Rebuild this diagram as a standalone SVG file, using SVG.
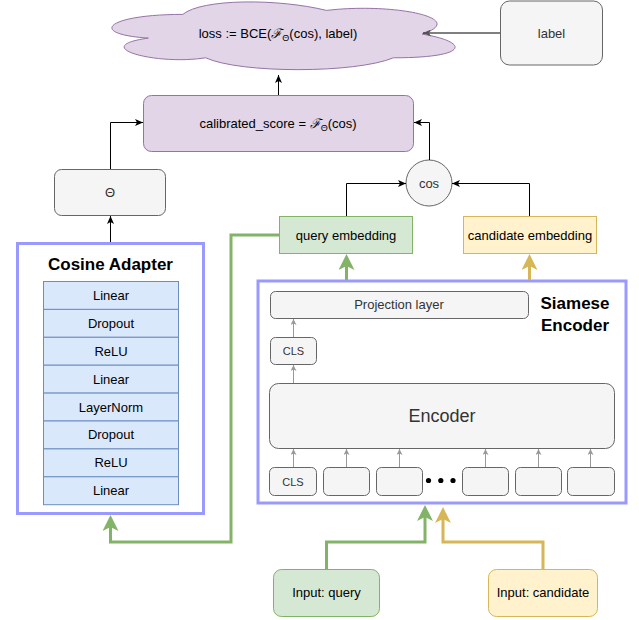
<svg xmlns="http://www.w3.org/2000/svg" width="639" height="620" viewBox="0 0 639 620">
<style>
text{font-family:"Liberation Sans",Arial,sans-serif;font-size:13px;fill:#000;text-anchor:middle}
.g{fill:#333}
.sm{font-size:11px}
.big{font-size:18px}
.ttl{font-weight:bold;font-size:17px}
.lay{fill:#dae8fc;stroke:#6c8ebf;stroke-width:1}
.grey{fill:#f5f5f5;stroke:#666;stroke-width:1}
.purp{fill:#e1d5e7;stroke:#9673a6;stroke-width:1}
.frame{fill:#fff;stroke:#9999ff;stroke-width:3}
.blk{fill:none;stroke:#000;stroke-width:1}
.gl{fill:none;stroke:#999;stroke-width:1}
.green{fill:none;stroke:#82b366;stroke-width:3}
.yel{fill:none;stroke:#d6b656;stroke-width:3}
.scr{font-family:"DejaVu Serif",serif;font-style:italic}
</style>
<defs>
<marker id="ab" markerUnits="userSpaceOnUse" viewBox="0 0 8 7" refX="8" refY="3.5" markerWidth="8" markerHeight="7" orient="auto"><path d="M0,0 L8,3.5 L0,7 L2,3.5 Z" fill="#000"/></marker>
<marker id="ad" markerUnits="userSpaceOnUse" viewBox="0 0 8 7" refX="8" refY="3.5" markerWidth="8" markerHeight="7" orient="auto"><path d="M0,0 L8,3.5 L0,7 L2,3.5 Z" fill="#555"/></marker>
<marker id="agr" markerUnits="userSpaceOnUse" viewBox="0 0 6 6" refX="6" refY="3" markerWidth="6" markerHeight="6" orient="auto"><path d="M0,0 L6,3 L0,6 L1.5,3 Z" fill="#999"/></marker>
<marker id="agn" markerUnits="userSpaceOnUse" viewBox="0 0 16 16" refX="4" refY="8" markerWidth="16" markerHeight="16" orient="auto"><path d="M0,0 L16,8 L0,16 L4,8 Z" fill="#82b366"/></marker>
<marker id="ayl" markerUnits="userSpaceOnUse" viewBox="0 0 16 16" refX="4" refY="8" markerWidth="16" markerHeight="16" orient="auto"><path d="M0,0 L16,8 L0,16 L4,8 Z" fill="#d6b656"/></marker>
</defs>

<g id="loss">
<path class="purp" d="M182.8 14.4 C106.2 14.4 87 34.1 148.3 38.1 C87 46.7 155.9 65.7 205.7 57.8 C240.2 73.6 355.1 73.6 393.4 57.8 C470 57.8 470 42 422.1 34.1 C470 18.3 393.4 2.5 326.4 10.4 C278.5 -1.5 201.9 -1.5 182.8 14.4 Z"/>
<text x="278" y="37.5">loss := BCE(<tspan class="scr">ℱ</tspan><tspan font-size="9" dy="3">Θ</tspan><tspan dy="-3">(cos), label)</tspan></text>
</g>
<g id="label">
<rect class="grey" x="500.5" y="1" width="102" height="64" rx="9"/>
<text class="g" x="551.5" y="37.5">label</text>
</g>
<g id="calibrated">
<rect class="purp" x="143.5" y="95.5" width="270" height="56" rx="8"/>
<text x="278" y="128">calibrated_score = <tspan class="scr">ℱ</tspan><tspan font-size="9" dy="3">Θ</tspan><tspan dy="-3">(cos)</tspan></text>
</g>
<g id="theta">
<rect class="grey" x="54.5" y="169.5" width="111" height="46" rx="7"/>
<text class="g" x="110" y="197">Θ</text>
</g>
<g id="cos">
<circle class="grey" cx="429" cy="183" r="23"/>
<text class="g" x="429" y="187.5">cos</text>
</g>
<g id="query-embedding">
<rect x="279.5" y="216.5" width="133" height="37" fill="#d5e8d4" stroke="#82b366"/>
<text x="346" y="239.5">query embedding</text>
</g>
<g id="candidate-embedding">
<rect x="463.5" y="216.5" width="133" height="37" fill="#fff2cc" stroke="#d6b656"/>
<text x="530" y="239.5">candidate embedding</text>
</g>

<g id="cosine-adapter">
<rect class="frame" x="17.5" y="243.5" width="186" height="270"/>
<text class="ttl" x="110.5" y="270">Cosine Adapter</text>
<rect class="lay" x="43.5" y="281.5" width="135" height="27.9"/>
<rect class="lay" x="43.5" y="309.4" width="135" height="27.9"/>
<rect class="lay" x="43.5" y="337.3" width="135" height="27.9"/>
<rect class="lay" x="43.5" y="365.2" width="135" height="27.9"/>
<rect class="lay" x="43.5" y="393.1" width="135" height="27.9"/>
<rect class="lay" x="43.5" y="421" width="135" height="27.9"/>
<rect class="lay" x="43.5" y="448.9" width="135" height="27.9"/>
<rect class="lay" x="43.5" y="476.8" width="135" height="27.9"/>
<text x="111" y="299.9">Linear</text>
<text x="111" y="327.8">Dropout</text>
<text x="111" y="355.7">ReLU</text>
<text x="111" y="383.6">Linear</text>
<text x="111" y="411.5">LayerNorm</text>
<text x="111" y="439.4">Dropout</text>
<text x="111" y="467.3">ReLU</text>
<text x="111" y="495.2">Linear</text>
</g>

<g id="siamese-encoder">
<rect class="frame" x="258" y="281" width="368" height="222"/>
<text class="ttl" x="575" y="309">Siamese</text>
<text class="ttl" x="575" y="331">Encoder</text>
<rect class="grey" x="270.5" y="291.5" width="258" height="27" rx="5"/>
<text class="g" x="399" y="309">Projection layer</text>
<rect class="grey" x="270.5" y="337.5" width="46" height="27" rx="5"/>
<text class="g sm" x="293.5" y="355">CLS</text>
<rect class="grey" x="269.5" y="383.5" width="345" height="65" rx="9"/>
<text class="g big" x="442" y="422">Encoder</text>
<rect class="grey" x="269.5" y="467.5" width="47" height="28" rx="5"/>
<text class="g sm" x="293" y="485.5">CLS</text>
<rect class="grey" x="323.5" y="467.5" width="46" height="28" rx="5"/>
<rect class="grey" x="376.5" y="467.5" width="46" height="28" rx="5"/>
<rect class="grey" x="462.5" y="467.5" width="46" height="28" rx="5"/>
<rect class="grey" x="515.5" y="467.5" width="46" height="28" rx="5"/>
<rect class="grey" x="567.5" y="467.5" width="47" height="28" rx="5"/>
<circle cx="428.5" cy="480.5" r="2.6"/>
<circle cx="440.8" cy="480.5" r="2.6"/>
<circle cx="453" cy="480.5" r="2.6"/>
</g>

<g id="input-query">
<rect x="273.5" y="569.5" width="106" height="47" rx="8" fill="#d5e8d4" stroke="#82b366"/>
<text x="326.5" y="597">Input: query</text>
</g>
<g id="input-candidate">
<rect x="488.5" y="569.5" width="109" height="47" rx="8" fill="#fff2cc" stroke="#d6b656"/>
<text x="543" y="597">Input: candidate</text>
</g>

<g id="connectors">
<path class="blk" d="M500 33 H423" stroke="#555" marker-end="url(#ad)"/>
<path class="blk" d="M278.5 95 V75" marker-end="url(#ab)"/>
<path class="blk" d="M110.5 169 V122.5 H143" marker-end="url(#ab)"/>
<path class="blk" d="M429.5 160 V122.5 H414" marker-end="url(#ab)"/>
<path class="blk" d="M346.5 216 V183.5 H406" marker-end="url(#ab)"/>
<path class="blk" d="M529.5 216 V183.5 H452" marker-end="url(#ab)"/>
<path class="blk" d="M110.5 242 V216" marker-end="url(#ab)"/>
<path class="gl" d="M293.5 337 V319" marker-end="url(#agr)"/>
<path class="gl" d="M293.5 383 V365" marker-end="url(#agr)"/>
<path class="gl" d="M293.5 467 V449" marker-end="url(#agr)"/>
<path class="gl" d="M346.5 467 V449" marker-end="url(#agr)"/>
<path class="gl" d="M399.5 467 V449" marker-end="url(#agr)"/>
<path class="gl" d="M485.5 467 V449" marker-end="url(#agr)"/>
<path class="gl" d="M538.5 467 V449" marker-end="url(#agr)"/>
<path class="gl" d="M590.5 467 V449" marker-end="url(#agr)"/>
<path class="green" d="M346.5 280 V266" marker-end="url(#agn)"/>
<path class="yel" d="M529.5 280 V266" marker-end="url(#ayl)"/>
<path class="green" d="M279 235 H231 V542 H110.5 V527" marker-end="url(#agn)"/>
<path class="green" d="M326.5 569 V542 H425 V517" marker-end="url(#agn)"/>
<path class="yel" d="M543 569 V542 H443 V519" marker-end="url(#ayl)"/>
</g>
</svg>
